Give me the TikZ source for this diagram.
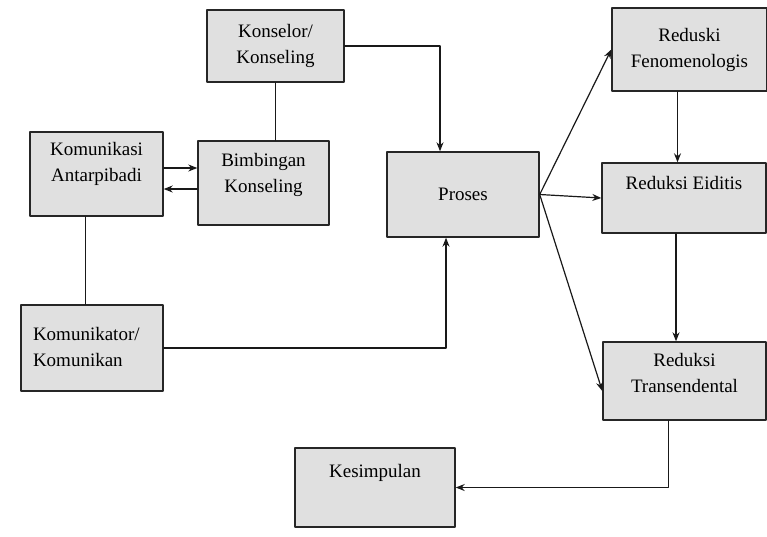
\documentclass[tikz,border=0pt]{standalone}
\usepackage{fontspec}
\setmainfont{Liberation Serif}
\usetikzlibrary{arrows.meta}

\begin{document}
\begin{tikzpicture}[line cap=round,line join=round,>={Stealth[length=9pt,width=7pt]},x=1pt,y=-1pt,
  box/.style={draw=black!85,line width=1.4pt,fill=black!12,align=center,inner sep=4pt,
    font=\fontsize{19}{26}\selectfont},
  link/.style={black!90,line width=1.2pt}]

\useasboundingbox (0,0) rectangle (767,536);

%left side
\node[box,minimum width=137pt,minimum height=72pt] (konselor) at (275.5,46) {Konselor/\\Konseling};
\node[box,minimum width=133pt,minimum height=84pt,text depth=24pt] (antar) at (96.5,174) {Komunikasi\\Antarpibadi};
\node[box,minimum width=131pt,minimum height=84pt,text depth=20pt] (bimbingan) at (263.5,183) {Bimbingan\\Konseling};
\node[box,minimum width=142pt,minimum height=86pt,text depth=28pt,align=left,text width=118pt,inner xsep=12pt] (komunikator) at (92,348) {Komunikator/\\Komunikan};

%middle
\node[box,minimum width=152pt,minimum height=85pt] (proses) at (463,194.5) {Proses};
\node[box,minimum width=160pt,minimum height=79pt,text depth=34pt] (kesimpulan) at (375,487.5) {Kesimpulan};

%reductions
\node[box,minimum width=155pt,minimum height=83pt] (fenomenologis) at (689.5,49.5) {Reduski\\Fenomenologis};
\node[box,minimum width=164pt,minimum height=70pt,text depth=30pt] (eiditis) at (684,198) {Reduksi Eiditis};
\node[box,minimum width=163pt,minimum height=78pt,text depth=16pt] (transendental) at (684.5,381) {Reduksi\\Transendental};

%connectors
\draw[link,->] (konselor.east) -| ([xshift=-23pt]proses.north);
\draw[link] (konselor.south) -- (konselor.south |- bimbingan.north);
\draw[link,->] ([yshift=6pt]antar.east) -- ([yshift=6pt]antar.east -| bimbingan.west);
\draw[link,->] ([yshift=-15pt]antar.east -| bimbingan.west) -- ([yshift=-15pt]antar.east);
\draw[link] ([xshift=-11pt]antar.south) -- ([xshift=-11pt]antar.south |- komunikator.north);
\draw[link,->] (komunikator.east) -| ([xshift=-17pt]proses.south);

\draw[link,->] (proses.east) -- (fenomenologis.west);
\draw[link,->] (proses.east) -- (eiditis.west);
\draw[link,->] (proses.east) -- ([yshift=-10pt]transendental.west);
\draw[link,->] ([xshift=-12pt]fenomenologis.south) -- ([xshift=-12pt]fenomenologis.south |- eiditis.north);
\draw[link,->] ([xshift=-8pt]eiditis.south) -- ([xshift=-8pt]eiditis.south |- transendental.north);
\draw[link,->] ([xshift=-16pt]transendental.south) |- (kesimpulan.east);
\end{tikzpicture}
\end{document}
